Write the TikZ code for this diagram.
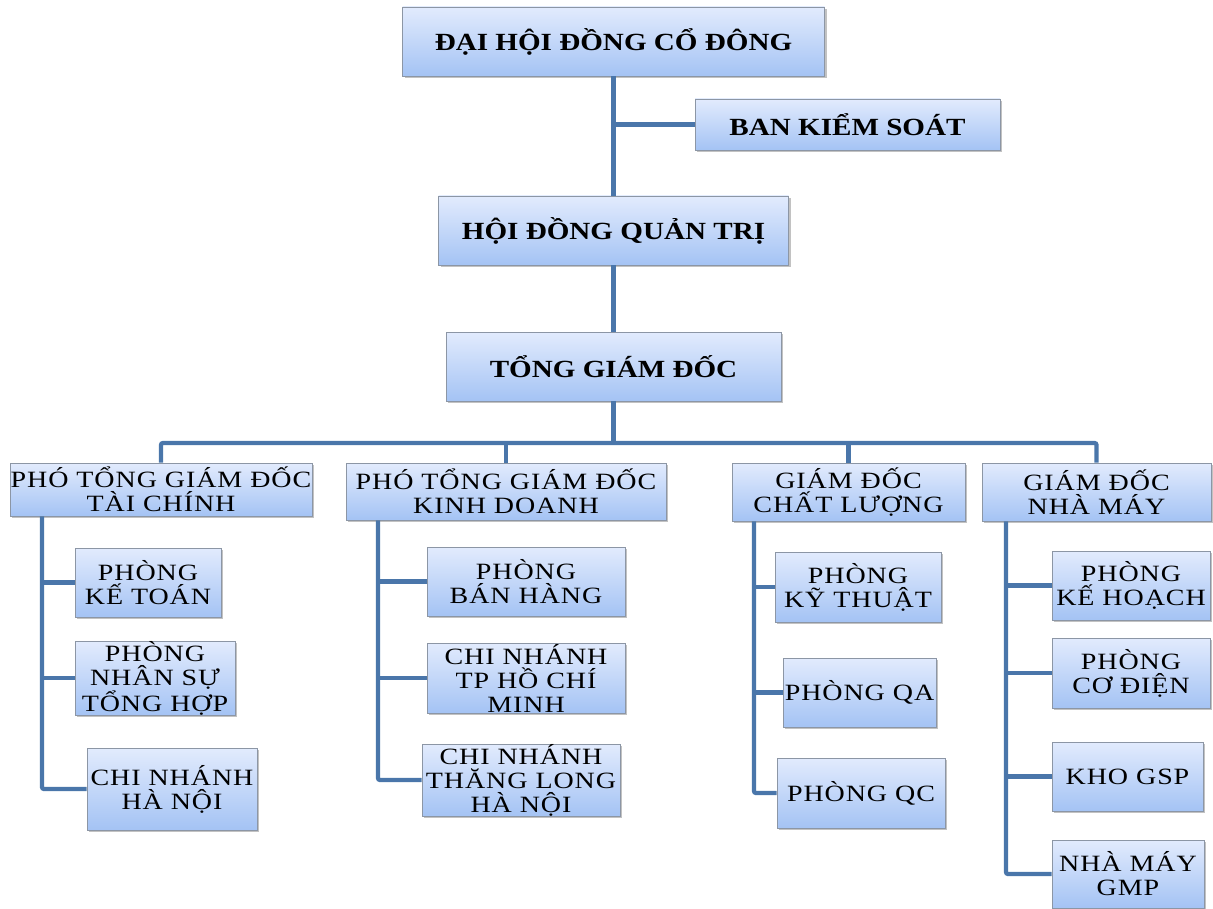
\documentclass[tikz,border=0pt]{standalone}
\usepackage{fontspec}
\setmainfont{Liberation Serif}[FakeStretch=1.18]
\newfontfamily\deptfont{Liberation Serif}[FakeStretch=1.2, LetterSpace=4]
\usetikzlibrary{shadows}

\definecolor{boxtop}{RGB}{226,235,253}
\definecolor{boxbottom}{RGB}{164,195,244}
\definecolor{boxline}{RGB}{140,150,165}
\definecolor{linkblue}{RGB}{74,118,170}

\begin{document}
\begin{tikzpicture}[x=0.75pt,y=-0.75pt]
        \tikzstyle{unit}=[draw=boxline, line width=0.6pt, top color=boxtop, bottom color=boxbottom, align=center, inner sep=0pt,
                drop shadow={shadow xshift=1.5pt, shadow yshift=-1.5pt, fill=black!40, opacity=0.6}]
        \tikzstyle{head}=[unit, font=\bfseries\fontsize{18.5}{22}\selectfont]
        \tikzstyle{dept}=[unit, font=\deptfont\fontsize{17.5}{18}\selectfont]
        \tikzstyle{link}=[draw=linkblue, line width=3.2pt, rounded corners=1.5pt]
        \useasboundingbox (0,0) rectangle (1213,909);
        % top of the chart
        \node[head, minimum width=316.5pt, minimum height=51.75pt] (dhdcd) at (613.5,41.5) {ĐẠI HỘI ĐỒNG CỔ ĐÔNG};
        \node[head, minimum width=228.75pt, minimum height=38.25pt] (bks) at (847.5,124.5) {BAN KIỂM SOÁT};
        \node[head, minimum width=262.5pt, minimum height=51.75pt] (hdqt) at (613.5,230.5) {HỘI ĐỒNG QUẢN TRỊ};
        \node[head, minimum width=251.25pt, minimum height=51.75pt] (tgd) at (613.5,366.5) {TỔNG GIÁM ĐỐC};
        % second level
        \node[dept, minimum width=226.5pt, minimum height=39.75pt] (ptc) at (161,489.5) {PHÓ TỔNG GIÁM ĐỐC\\TÀI CHÍNH};
        \node[dept, minimum width=240pt, minimum height=42.75pt] (pkd) at (506,491.5) {PHÓ TỔNG GIÁM ĐỐC\\KINH DOANH};
        \node[dept, minimum width=174.75pt, minimum height=43.5pt] (gcl) at (848.5,492) {GIÁM ĐỐC\\CHẤT LƯỢNG};
        \node[dept, minimum width=171.75pt, minimum height=43.5pt] (gnm) at (1096.5,492) {GIÁM ĐỐC\\NHÀ MÁY};
        % departments
        \node[dept, minimum width=109.5pt, minimum height=51.75pt] (pkt) at (148,582.5) {PHÒNG\\KẾ TOÁN};
        \node[dept, minimum width=120pt, minimum height=52.5pt] (pns) at (155,678) {PHÒNG\\NHÂN SỰ\\TỔNG HỢP};
        \node[dept, minimum width=127.5pt, minimum height=61.5pt] (cnhn) at (172,789) {CHI NHÁNH\\HÀ NỘI};
        \node[dept, minimum width=148.5pt, minimum height=51.75pt] (pbh) at (526,581.5) {PHÒNG\\BÁN HÀNG};
        \node[dept, minimum width=148.5pt, minimum height=52.5pt] (cnhcm) at (526,678) {CHI NHÁNH\\TP HỒ CHÍ\\MINH};
        \node[dept, minimum width=148.5pt, minimum height=52.5pt] (cntl) at (521,780) {CHI NHÁNH\\THĂNG LONG\\HÀ NỘI};
        \node[dept, minimum width=124.5pt, minimum height=52.5pt] (pkth) at (858,587) {PHÒNG\\KỸ THUẬT};
        \node[dept, minimum width=114.75pt, minimum height=51.75pt] (pqa) at (859.5,692.5) {PHÒNG QA};
        \node[dept, minimum width=126pt, minimum height=52.5pt] (pqc) at (861,793) {PHÒNG QC};
        \node[dept, minimum width=118.5pt, minimum height=51.75pt] (pkh) at (1131,585.5) {PHÒNG\\KẾ HOẠCH};
        \node[dept, minimum width=118.5pt, minimum height=52.5pt] (pcd) at (1131,673) {PHÒNG\\CƠ ĐIỆN};
        \node[dept, minimum width=113.25pt, minimum height=51.75pt] (kgsp) at (1127.5,776.5) {KHO GSP};
        \node[dept, minimum width=114pt, minimum height=51pt] (nmgmp) at (1128,874) {NHÀ MÁY\\GMP};
        % connectors
        \coordinate (bus) at (613.5,443);
        \draw[link] (dhdcd) -- (hdqt);
        \draw[link] (bks) -- (bks -| dhdcd);
        \draw[link] (hdqt) -- (tgd);
        \draw[link] (tgd) -- (bus);
        \draw[link] (ptc) -- (ptc |- bus) -- (gnm |- bus) -- (gnm);
        \foreach \c in {pkd,gcl} \draw[link] (\c) -- (\c |- bus);
        \draw[link] (ptc.south -| 42,0) |- (cnhn);
        \foreach \c in {pkt,pns} \draw[link] (\c) -- (\c -| 42,0);
        \draw[link] (pkd.south -| 378,0) |- (cntl);
        \foreach \c in {pbh,cnhcm} \draw[link] (\c) -- (\c -| 378,0);
        \draw[link] (gcl.south -| 754,0) |- (pqc);
        \foreach \c in {pkth,pqa} \draw[link] (\c) -- (\c -| 754,0);
        \draw[link] (gnm.south -| 1006,0) |- (nmgmp);
        \foreach \c in {pkh,pcd,kgsp} \draw[link] (\c) -- (\c -| 1006,0);
\end{tikzpicture}
\end{document}
